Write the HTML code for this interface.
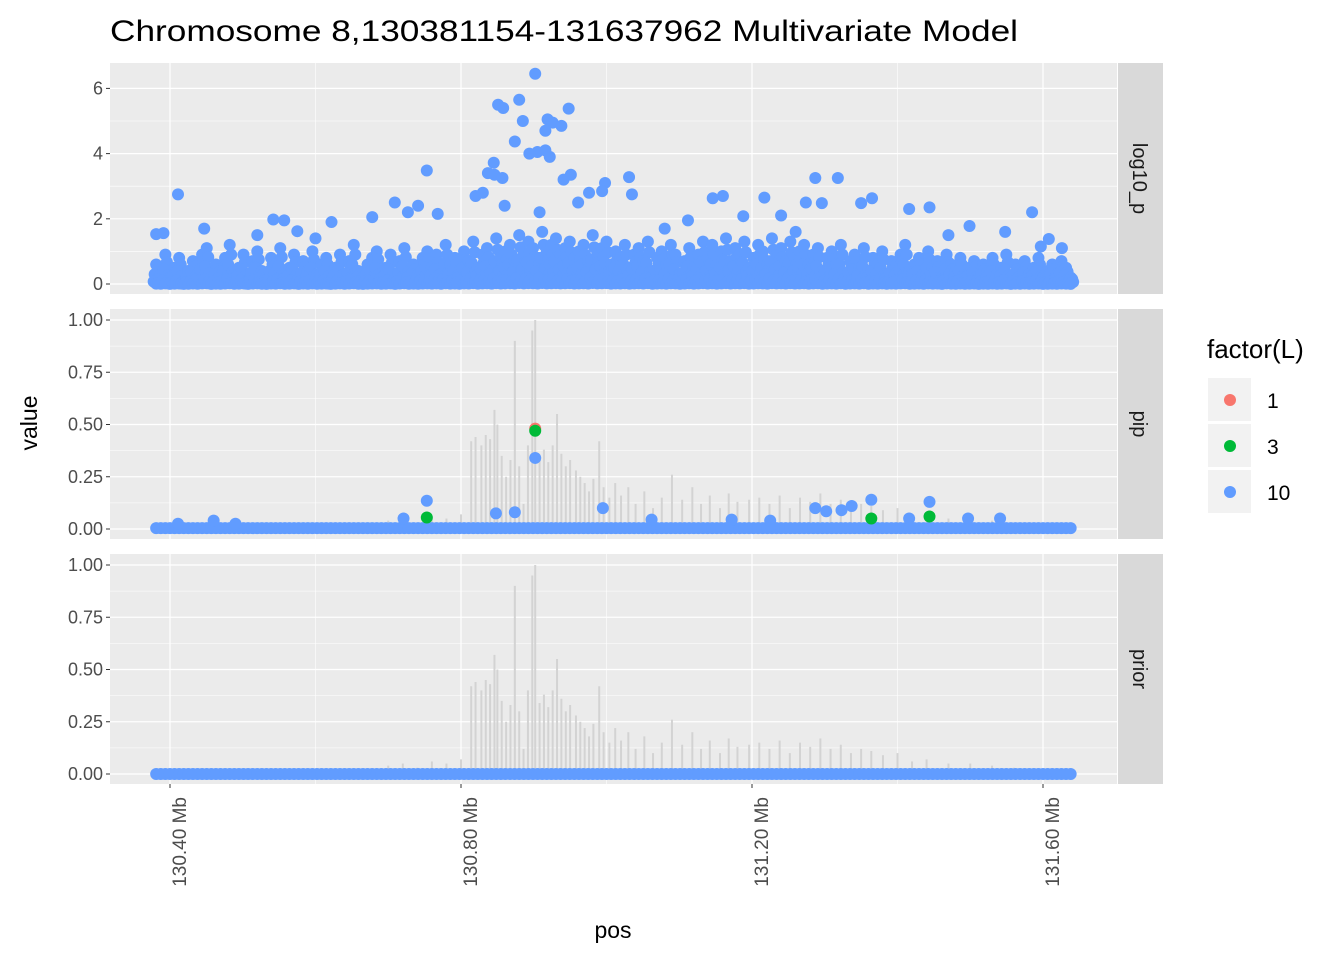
<!DOCTYPE html>
<html><head><meta charset="utf-8"><style>
body{margin:0;background:#fff}
svg{display:block;font-family:"Liberation Sans",sans-serif}
</style></head><body>
<svg id="chart" width="1344" height="960" viewBox="0 0 1344 960" xmlns="http://www.w3.org/2000/svg">
<rect width="1344" height="960" fill="#fff"/>
<text x="110" y="41" font-size="30" fill="#000" textLength="908" lengthAdjust="spacingAndGlyphs">Chromosome 8,130381154-131637962 Multivariate Model</text>
<g id="panels"></g>
<text transform="translate(37,423) rotate(-90)" text-anchor="middle" font-size="23" fill="#000">value</text>
<text x="613" y="938" text-anchor="middle" font-size="23" fill="#000">pos</text>
<g>
<text x="1207" y="358" font-size="26" fill="#000">factor(L)</text>
<g><rect x="1208" y="378" width="43" height="43" fill="#F2F2F2"/><circle cx="1230" cy="400" r="6" fill="#F8766D"/><text x="1267" y="408" font-size="21" fill="#000">1</text></g>
<g><rect x="1208" y="424" width="43" height="43" fill="#F2F2F2"/><circle cx="1230" cy="446" r="6" fill="#00BA38"/><text x="1267" y="454" font-size="21" fill="#000">3</text></g>
<g><rect x="1208" y="470" width="43" height="43" fill="#F2F2F2"/><circle cx="1230" cy="492" r="6" fill="#619CFF"/><text x="1267" y="500" font-size="21" fill="#000">10</text></g>
</g>
</svg>
<script>
// ---- data ----
const xTicks=[130.4,130.8,131.2,131.6];
const xTickLabels=["130.40 Mb","130.80 Mb","131.20 Mb","131.60 Mb"];
const logTicks=[0,2,4,6];
const fracTicks=[0,0.25,0.5,0.75,1];
const fracTickLabels=["0.00","0.25","0.50","0.75","1.00"];
const regionStart=130.381, regionEnd=131.638;
const bandLog=[0.6,0.3,0.9,0.2,0.5,0.8,0.1,0.4,0.7,0.3,0.9,1.1,0.2,0.6,0.4,0.8,1.2,0.3,0.5,0.9,0.1,0.7,1.0,0.4,0.2,0.8,0.6,1.1,0.3,0.5,
0.9,0.2,0.7,0.4,1.0,0.3,0.6,0.8,0.1,0.5,0.9,0.3,0.7,1.2,0.4,0.2,0.6,0.8,1.0,0.3,0.5,0.9,0.2,0.7,1.1,0.4,0.6,0.3,0.8,1.0,
0.5,0.9,0.3,1.2,0.6,0.8,0.4,1.0,0.7,1.3,0.5,0.9,1.1,0.6,1.4,0.8,1.0,1.2,0.7,1.5,0.9,1.3,1.1,0.8,1.6,1.0,1.2,1.4,0.9,1.1,
1.3,0.8,1.0,1.2,0.7,1.5,0.9,1.1,1.3,0.6,1.0,0.8,1.2,0.5,0.9,1.1,0.7,1.3,0.4,0.8,1.0,0.6,1.2,0.9,0.3,0.7,1.1,0.5,0.9,1.3,
0.8,1.2,0.6,1.0,1.4,0.7,1.1,0.9,1.3,0.5,0.8,1.2,1.0,0.6,1.4,0.9,1.1,0.7,1.3,0.8,1.0,1.2,0.6,0.9,1.1,0.4,0.8,1.0,0.6,1.2,
0.3,0.7,0.9,0.5,1.1,0.4,0.8,0.6,1.0,0.3,0.7,0.5,0.9,1.2,0.4,0.6,0.8,0.3,1.0,0.5,0.7,0.2,0.9,0.6,0.4,0.8,0.3,0.5,0.7,0.2,
0.6,0.4,0.8,0.3,0.5,0.9,0.2,0.6,0.4,0.7,0.3,0.5,0.8,0.2,0.4,0.6,0.3,0.7,0.5,0.2];
const peakPos=[130.902,130.851,130.858,130.880,130.948,130.885,130.919,130.926,130.916,130.938,130.874,130.905,130.916,130.894,130.922,130.845,130.753,130.837,130.846,130.857,130.951,130.941,131.031,130.998,130.994,130.976,131.287,131.318,130.411,130.820,130.830,131.035,131.160,131.217,131.146,131.365,131.296,130.860,130.908,130.961,130.709,130.741,131.274,131.350,131.416,131.444,131.585,130.727,130.768,130.542,130.557,131.112,131.188,131.240,130.678,130.622,130.447,130.575,130.381,130.391,131.608,131.626,131.597,131.499,131.548,130.520,130.600,131.080,131.260,131.470];
const peakLog=[6.45,5.5,5.4,5.65,5.38,5.0,5.05,4.95,4.7,4.85,4.37,4.05,4.1,4.0,3.9,3.72,3.48,3.4,3.35,3.25,3.35,3.2,3.28,3.1,2.85,2.8,3.25,3.25,2.75,2.7,2.8,2.75,2.7,2.65,2.63,2.63,2.48,2.4,2.2,2.5,2.5,2.4,2.5,2.48,2.3,2.35,2.2,2.2,2.15,1.98,1.95,1.95,2.08,2.1,2.05,1.9,1.7,1.62,1.53,1.56,1.38,1.1,1.15,1.78,1.6,1.5,1.4,1.7,1.6,1.5];
const priorPos=[130.70,130.72,130.74,130.76,130.78,130.80,130.814,130.820,130.828,130.834,130.840,130.846,130.850,130.856,130.862,130.868,130.874,130.880,130.886,130.892,130.898,130.902,130.908,130.914,130.920,130.926,130.932,130.938,130.944,130.950,130.958,130.964,130.970,130.976,130.982,130.990,130.996,131.004,131.012,131.020,131.030,131.040,131.052,131.064,131.076,131.090,131.104,131.118,131.130,131.142,131.156,131.168,131.180,131.196,131.210,131.224,131.238,131.252,131.266,131.280,131.294,131.308,131.322,131.336,131.350,131.364,131.380,131.400,131.420,131.440,131.470,131.500,131.530,131.560];
const priorVal=[0.04,0.05,0.03,0.06,0.05,0.07,0.42,0.44,0.40,0.45,0.43,0.57,0.50,0.35,0.25,0.33,0.90,0.30,0.12,0.40,0.95,1.00,0.34,0.38,0.32,0.40,0.55,0.36,0.30,0.33,0.28,0.25,0.22,0.18,0.24,0.42,0.20,0.15,0.22,0.16,0.20,0.12,0.18,0.10,0.15,0.26,0.14,0.20,0.12,0.16,0.10,0.17,0.13,0.14,0.15,0.12,0.16,0.10,0.15,0.13,0.17,0.12,0.14,0.10,0.12,0.11,0.09,0.10,0.06,0.07,0.05,0.05,0.04,0.03];
const pipPos=[130.902,130.902,130.902,130.753,130.753,130.995,131.364,131.364,131.444,131.444,131.287,130.721,130.460,130.490,130.411,130.848,130.874,131.062,131.172,131.225,131.302,131.323,131.337,131.416,131.497,131.541];
const pipVal=[0.48,0.47,0.34,0.135,0.055,0.10,0.14,0.05,0.13,0.06,0.10,0.05,0.04,0.025,0.025,0.075,0.08,0.045,0.045,0.04,0.085,0.09,0.11,0.05,0.05,0.05];
const pipGroup=[1,3,10,10,3,10,10,3,10,3,10,10,10,10,10,10,10,10,10,10,10,10,10,10,10,10];

const NS="http://www.w3.org/2000/svg";
const X0=110,X1=1117;
const xs=v=>170+(v-130.4)*727.5;
const colors={1:"#F8766D",3:"#00BA38",10:"#619CFF"};
const panels=[
 {name:"log10_p",top:63,bot:294,y:v=>284-v*32.6,ticks:logTicks,labels:logTicks.map(String),minor:[1,3,5]},
 {name:"pip",top:309,bot:539,y:v=>529-v*209,ticks:fracTicks,labels:fracTickLabels,minor:[0.125,0.375,0.625,0.875]},
 {name:"prior",top:554,bot:784,y:v=>774-v*209,ticks:fracTicks,labels:fracTickLabels,minor:[0.125,0.375,0.625,0.875]}
];
const root=document.getElementById('panels');
function mk(tag,attrs,parent){const e=document.createElementNS(NS,tag);for(const k in attrs)e.setAttribute(k,attrs[k]);(parent||root).appendChild(e);return e;}
const gridPos=bandLog.map((_,i)=>regionStart+(regionEnd-regionStart)*i/(bandLog.length-1));
const layers=[[1,0],[0.75,1.5],[0.5,-1.5],[0.3,2.5],[0.12,-2.5],[0.02,0]];

panels.forEach((p,pi)=>{
 const g=mk('g',{});
 
 
 mk('rect',{x:X0,y:p.top,width:X1-X0,height:p.bot-p.top,fill:'#EBEBEB'},g);
 p.minor.forEach(v=>mk('line',{x1:X0,x2:X1,y1:p.y(v),y2:p.y(v),stroke:'#fff','stroke-width':0.6},g));
 [130.6,131.0,131.4].forEach(v=>mk('line',{x1:xs(v),x2:xs(v),y1:p.top,y2:p.bot,stroke:'#fff','stroke-width':0.6},g));
 p.ticks.forEach((v,i)=>{
  mk('line',{x1:X0,x2:X1,y1:p.y(v),y2:p.y(v),stroke:'#fff','stroke-width':1.2},g);
  mk('line',{x1:X0-4,x2:X0,y1:p.y(v),y2:p.y(v),stroke:'#333','stroke-width':1},g);
  const t=mk('text',{x:X0-7,y:p.y(v)+6,'text-anchor':'end','font-size':18,fill:'#4D4D4D'},g);
  t.textContent=p.labels[i];
  
  
 });
 xTicks.forEach(v=>mk('line',{x1:xs(v),x2:xs(v),y1:p.top,y2:p.bot,stroke:'#fff','stroke-width':1.2},g));
 const s=mk('rect',{x:1118,y:p.top,width:45,height:p.bot-p.top,fill:'#D9D9D9'},g);
 
 
 const st=mk('text',{transform:`translate(1133,${(p.top+p.bot)/2}) rotate(90)`,'text-anchor':'middle','font-size':20,fill:'#1A1A1A'},g);
 st.textContent=p.name;
 const scale=pi===0?1.2:1;
 priorPos.forEach((m,i)=>{
  const b=mk('line',{x1:xs(m),x2:xs(m),y1:p.y(0),y2:p.y(priorVal[i]*scale),stroke:'#D3D3D3','stroke-width':2},g);
  
  
 });
 if(pi===0){
  gridPos.forEach((m,i)=>{
   layers.forEach(([f,dx])=>{
    const c=mk('circle',{cx:xs(m)+dx,cy:p.y(bandLog[i]*f),r:6,fill:colors[10]},g);
    
    
   });
  });
  peakPos.forEach((m,i)=>{
   const c=mk('circle',{cx:xs(m),cy:p.y(peakLog[i]),r:6,fill:colors[10]},g);
   
   
  });
 } else {
  gridPos.forEach((m,i)=>{
   const c=mk('circle',{cx:xs(m),cy:p.y(pi===1?0.004:0),r:6,fill:colors[10]},g);
   
   
  });
  if(pi===1){
   pipPos.forEach((m,i)=>{
    const c=mk('circle',{cx:xs(m),cy:p.y(pipVal[i]),r:6,fill:colors[pipGroup[i]]},g);
    
    
   });
  }
 }
});
xTicks.forEach((v,i)=>{
 mk('line',{x1:xs(v),x2:xs(v),y1:784,y2:788,stroke:'#333','stroke-width':1});
 const t=mk('text',{transform:`translate(${xs(v)+16},797) rotate(-90)`,'text-anchor':'end','font-size':19,fill:'#4D4D4D'});
 t.textContent=xTickLabels[i];
 
 
});
</script>
</body></html>
